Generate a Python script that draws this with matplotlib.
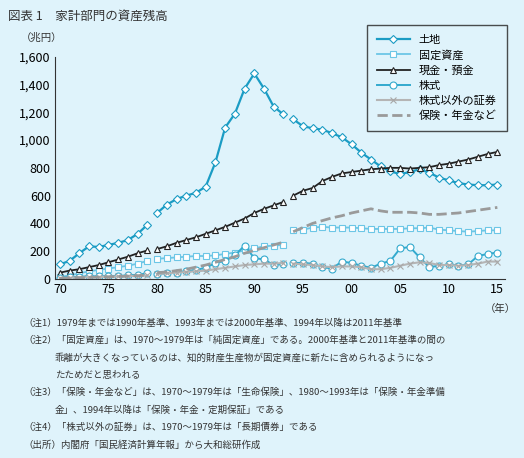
import matplotlib
matplotlib.use("Agg")
import matplotlib.pyplot as plt
import numpy as np

plt.rcParams['font.family'] = ['Noto Sans CJK JP', 'DejaVu Sans']

years = list(range(1970, 2016))
segments = [(1970, 1979), (1980, 1993), (1994, 2015)]

land = [105,130,185,235,230,245,260,280,325,390,
        475,535,575,600,620,665,840,1090,1190,1370,1480,1370,1240,1185,
        1150,1100,1085,1075,1050,1020,970,910,860,810,775,755,770,790,765,730,710,690,680,675,675,680]
fixed = [15,25,40,55,65,75,85,95,110,130,
         145,150,155,160,165,165,170,180,190,205,220,235,240,245,
         350,355,370,375,370,370,370,365,360,360,360,360,365,365,370,355,350,345,340,345,350,350]
cash = [45,60,70,85,100,120,140,160,185,205,
        215,235,260,280,300,325,350,375,405,435,475,505,530,555,
        600,635,655,705,735,760,770,780,790,795,800,800,795,800,805,820,830,845,860,880,900,915]
stocks = [10,12,15,20,18,20,22,25,30,40,
          35,40,45,55,65,80,115,130,170,240,150,140,100,110,
          115,115,110,85,75,125,115,95,80,110,130,220,230,155,85,95,105,95,105,165,180,190]
other_sec = [5,8,10,12,14,16,18,20,22,25,
             35,40,45,50,55,60,70,80,90,100,105,110,110,115,
             110,105,100,90,85,90,90,85,70,70,80,95,110,120,115,100,100,95,100,110,125,125]
insurance = [5,7,9,11,13,15,17,20,23,27,
             45,50,60,70,85,100,120,140,160,185,205,225,245,265,
             340,370,400,420,440,455,475,490,505,490,480,480,480,475,465,465,470,475,485,495,505,515]

series = [
    ("土地", land, dict(color="#1b9cc4", lw=1.6, marker="D", ms=4, mfc="white", mec="#1b9cc4", mew=0.8)),
    ("固定資産", fixed, dict(color="#6cc6e6", lw=1.3, marker="s", ms=4, mfc="white", mec="#6cc6e6", mew=0.8)),
    ("現金・預金", cash, dict(color="#222222", lw=1.3, marker="^", ms=5, mfc="white", mec="#222222", mew=0.8)),
    ("株式", stocks, dict(color="#33aace", lw=1.4, marker="o", ms=5, mfc="white", mec="#33aace", mew=0.8)),
    ("株式以外の証券", other_sec, dict(color="#b5b5b5", lw=1.5, marker="x", ms=4, mec="#a8a8a8", mew=0.8)),
    ("保険・年金など", insurance, dict(color="#9a9a9a", lw=2.0, ls="--")),
]

bg = "#dff3fb"
fig = plt.figure(figsize=(5.24, 4.58), dpi=100, facecolor=bg)
ax = fig.add_axes([0.105, 0.391, 0.859, 0.485], facecolor=bg)

yrs = np.array(years)
for label, vals, st in series:
    v = np.array(vals, dtype=float)
    for i, (a, b) in enumerate(segments):
        m = (yrs >= a) & (yrs <= b)
        ax.plot(yrs[m], v[m], label=label if i == 0 else None, **st)

ax.set_xlim(1969.5, 2015.8)
ax.set_ylim(0, 1600)
ax.set_yticks(range(0, 1601, 200))
ax.set_yticklabels([f"{v:,}" for v in range(0, 1601, 200)], fontsize=9)
xt = list(range(1970, 2016, 5))
ax.set_xticks(xt)
ax.set_xticklabels([f"{y % 100:02d}" for y in xt], fontsize=9)
ax.tick_params(length=0, pad=3)
for s in ["top", "right"]:
    ax.spines[s].set_visible(False)
ax.spines["left"].set_color("#333")
ax.spines["bottom"].set_color("#333")
ax.spines["left"].set_linewidth(0.8)
ax.spines["bottom"].set_linewidth(0.8)

leg = ax.legend(loc="upper left", bbox_to_anchor=(0.68, 1.17), fontsize=8, frameon=True,
                fancybox=False, edgecolor="#222", facecolor=bg, handlelength=3,
                labelspacing=0.45, borderpad=0.9)
leg.get_frame().set_linewidth(1.0)

fig.text(0.015, 0.965, "図表 1　家計部門の資産残高", fontsize=9, va="center", color="#333")
fig.text(0.04, 0.917, "（兆円）", fontsize=7.5, va="center", color="#333")
fig.text(0.925, 0.325, "（年）", fontsize=7.5, va="center", color="#333")

notes = [
    (0.045, 0.295, "（注1）1979年までは1990年基準、1993年までは2000年基準、1994年以降は2011年基準"),
    (0.045, 0.257, "（注2）「固定資産」は、1970～1979年は「純固定資産」である。2000年基準と2011年基準の間の"),
    (0.105, 0.219, "乖離が大きくなっているのは、知的財産生産物が固定資産に新たに含められるようになっ"),
    (0.105, 0.181, "たためだと思われる"),
    (0.045, 0.143, "（注3）「保険・年金など」は、1970～1979年は「生命保険」、1980～1993年は「保険・年金準備"),
    (0.105, 0.105, "金」、1994年以降は「保険・年金・定期保証」である"),
    (0.045, 0.067, "（注4）「株式以外の証券」は、1970～1979年は「長期債券」である"),
    (0.045, 0.029, "（出所）内閣府「国民経済計算年報」から大和総研作成"),
]
for x, y, t in notes:
    fig.text(x, y, t, fontsize=6.8, va="center", color="#333")

fig.savefig("out.png", dpi=100, facecolor=bg)
